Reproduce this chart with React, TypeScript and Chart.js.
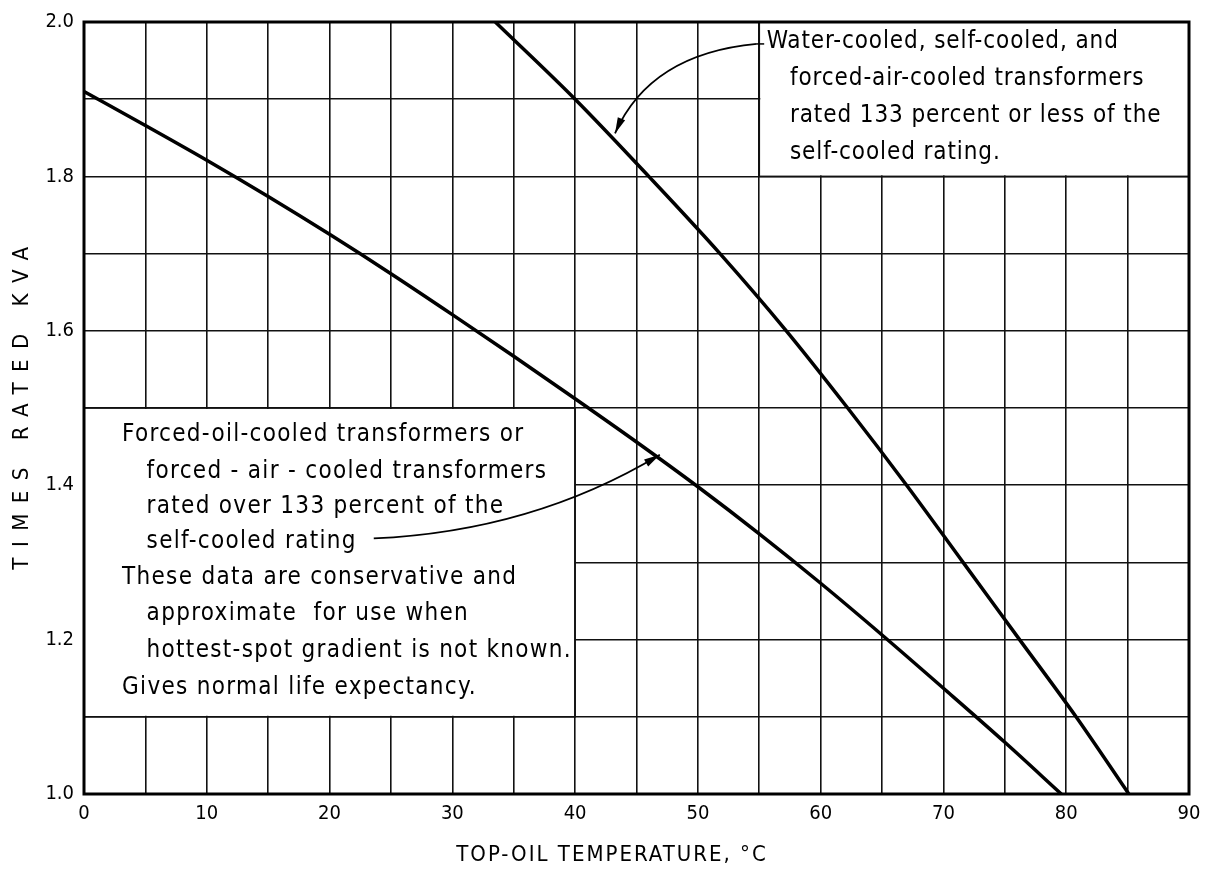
import React, { useEffect, useRef } from "react";
import { Chart, registerables } from "chart.js";

Chart.register(...registerables);

// ---- data ----
const lowerX = [0, 5, 10, 15, 20, 25, 30, 35, 40, 45, 50, 55, 60, 65, 70, 75, 79.6];
const lowerY = [1.91, 1.866, 1.821, 1.774, 1.725, 1.674, 1.621, 1.567, 1.512, 1.456, 1.398, 1.337, 1.273, 1.206, 1.137, 1.067, 1.0];

const upperX = [33.5, 40, 46, 51.8, 57.2, 62.2, 67, 71.6, 76.2, 80.8, 85.1];
const upperY = [2.0, 1.9, 1.8, 1.7, 1.6, 1.5, 1.4, 1.3, 1.2, 1.1, 1.0];

const xMin = 0, xMax = 90, xGridStep = 5, xLabelStep = 10;
const yMin = 1.0, yMax = 2.0, yGridStep = 0.1;

const xTitle = "TOP-OIL TEMPERATURE, °C";
const yTitle = "TIMES RATED KVA";

const upperNoteLines = [
  "Water-cooled, self-cooled, and",
  "forced-air-cooled transformers",
  "rated 133 percent or less of the",
  "self-cooled rating.",
];
const upperNoteIndent = [0, 1, 1, 1];

const lowerNoteLines = [
  "Forced-oil-cooled transformers or",
  "forced - air - cooled transformers",
  "rated over 133 percent of the",
  "self-cooled rating",
  "These data are conservative and",
  "approximate  for use when",
  "hottest-spot gradient is not known.",
  "Gives normal life expectancy.",
];
const lowerNoteIndent = [0, 1, 1, 1, 0, 1, 1, 0];

// boxes (data units) where the grid is blanked out
const noteBoxes = [
  { x0: 55, x1: 90, y0: 1.8, y1: 2.0 },
  { x0: 0, x1: 40, y0: 1.1, y1: 1.5 },
];

const FONT = "'DejaVu Sans Condensed', 'DejaVu Sans', sans-serif";

function mkPlugin() {
  return {
    id: "decor",
    beforeDatasetsDraw(chart: any) {
      const { ctx } = chart;
      const xs = chart.scales.x, ys = chart.scales.y;
      ctx.save();
      for (const b of noteBoxes) {
        const l = xs.getPixelForValue(b.x0), r = xs.getPixelForValue(b.x1);
        const t = ys.getPixelForValue(b.y1), btm = ys.getPixelForValue(b.y0);
        ctx.fillStyle = "#fff";
        ctx.fillRect(l + 1, t + 1, r - l - 2, btm - t - 2);
        ctx.strokeStyle = "#111";
        ctx.lineWidth = 1.6;
        ctx.strokeRect(l, t, r - l, btm - t);
      }
      ctx.restore();
    },
    afterDatasetsDraw(chart: any) {
      const { ctx, chartArea } = chart;
      const xs = chart.scales.x, ys = chart.scales.y;
      const px = (v: number) => xs.getPixelForValue(v);
      const py = (v: number) => ys.getPixelForValue(v);
      ctx.save();
      // frame
      ctx.strokeStyle = "#000";
      ctx.lineWidth = 3;
      ctx.strokeRect(chartArea.left, chartArea.top, chartArea.right - chartArea.left, chartArea.bottom - chartArea.top);

      // notes
      ctx.fillStyle = "#000";
      ctx.font = `24px ${FONT}`;
      ctx.textBaseline = "middle";
      ctx.textAlign = "left";
      (ctx as any).letterSpacing = "0.9px";
      const upStartX = [55.6, 57.5];
      const upY = [1.974, 1.927, 1.879, 1.83];
      upperNoteLines.forEach((s, i) => {
        ctx.fillText(s, px(upStartX[upperNoteIndent[i]]), py(upY[i]));
      });
      (ctx as any).letterSpacing = "1.3px";
      const loStartX = [3.1, 5.1];
      const loY = [1.465, 1.4175, 1.372, 1.327, 1.28, 1.233, 1.186, 1.138];
      lowerNoteLines.forEach((s, i) => {
        ctx.fillText(s, px(loStartX[lowerNoteIndent[i]]), py(loY[i]));
      });

      // arrows
      const arrow = (s: number[], c: number[], e: number[]) => {
        const sx = px(s[0]), sy = py(s[1]);
        const cx = px(c[0]), cy = py(c[1]);
        const ex = px(e[0]), ey = py(e[1]);
        ctx.beginPath();
        ctx.moveTo(sx, sy);
        ctx.quadraticCurveTo(cx, cy, ex, ey);
        ctx.lineWidth = 1.8;
        ctx.strokeStyle = "#000";
        ctx.stroke();
        const ang = Math.atan2(ey - cy, ex - cx);
        const L = 16, W = 4;
        ctx.beginPath();
        ctx.moveTo(ex, ey);
        ctx.lineTo(ex - L * Math.cos(ang) + W * Math.sin(ang), ey - L * Math.sin(ang) - W * Math.cos(ang));
        ctx.lineTo(ex - L * Math.cos(ang) - W * Math.sin(ang), ey - L * Math.sin(ang) + W * Math.cos(ang));
        ctx.closePath();
        ctx.fillStyle = "#000";
        ctx.fill();
      };
      arrow([54.8, 1.9716], [46.1, 1.9588], [43.25, 1.8557]);
      arrow([23.6, 1.331], [36.5, 1.34], [46.9, 1.4394]);
      ctx.beginPath();
      ctx.moveTo(px(54.8), py(1.9716));
      ctx.lineTo(px(55.4), py(1.9716));
      ctx.lineWidth = 1.5;
      ctx.stroke();
      ctx.restore();
    },
    afterDraw(chart: any) {
      const { ctx } = chart;
      ctx.save();
      ctx.fillStyle = "#000";
      ctx.textBaseline = "middle";
      ctx.textAlign = "center";
      ctx.font = `22px ${FONT}`;
      (ctx as any).letterSpacing = "2px";
      ctx.fillText(xTitle, 612, 855);
      ctx.translate(22, 408);
      ctx.rotate(-Math.PI / 2);
      (ctx as any).letterSpacing = "10.5px";
      ctx.fillText(yTitle, 5, 0);
      ctx.restore();
    },
  };
}

export default function App() {
  const ref = useRef<HTMLCanvasElement>(null);
  useEffect(() => {
    document.body.style.margin = "0";
    const canvas = ref.current!;
    const chart = new Chart(canvas, {
      type: "scatter",
      data: {
        datasets: [
          {
            label: "Forced-oil-cooled",
            data: lowerX.map((x, i) => ({ x, y: lowerY[i] })),
            showLine: true,
            borderColor: "#000",
            borderWidth: 3.5,
            pointRadius: 0,
            cubicInterpolationMode: "monotone",
          },
          {
            label: "Water-cooled / self-cooled",
            data: upperX.map((x, i) => ({ x, y: upperY[i] })),
            showLine: true,
            borderColor: "#000",
            borderWidth: 3.5,
            pointRadius: 0,
            cubicInterpolationMode: "monotone",
          },
        ],
      },
      options: {
        animation: false,
        responsive: false,
        devicePixelRatio: 1,
        layout: { padding: { top: 18, right: 27, left: 0, bottom: 0 } },
        plugins: { legend: { display: false }, tooltip: { enabled: false } },
        scales: {
          x: {
            type: "linear",
            min: xMin,
            max: xMax,
            afterFit: (s: any) => { s.height = 75; },
            grid: { color: "#111", lineWidth: 1.6, drawTicks: false },
            border: { display: false },
            ticks: {
              stepSize: xGridStep,
              autoSkip: false,
              maxRotation: 0,
              padding: 8,
              color: "#000",
              font: { family: FONT, size: 20 },
              callback: (v: any) => (Math.round(v) % xLabelStep === 0 ? String(Math.round(v)) : ""),
            },
          },
          y: {
            type: "linear",
            min: yMin,
            max: yMax,
            afterFit: (s: any) => { s.width = 84; },
            grid: { color: "#111", lineWidth: 1.6, drawTicks: false },
            border: { display: false },
            ticks: {
              stepSize: yGridStep,
              autoSkip: false,
              padding: 10,
              color: "#000",
              font: { family: FONT, size: 20 },
              callback: (v: any) => {
                const k = Math.round(v * 10);
                return k % 2 === 0 ? (k / 10).toFixed(1) : "";
              },
            },
          },
        },
      },
      plugins: [mkPlugin()],
    } as any);
    return () => chart.destroy();
  }, []);
  return (
    <div style={{ width: 1216, height: 869, background: "#fff" }}>
      <canvas ref={ref} width={1216} height={869} style={{ display: "block" }} />
    </div>
  );
}
